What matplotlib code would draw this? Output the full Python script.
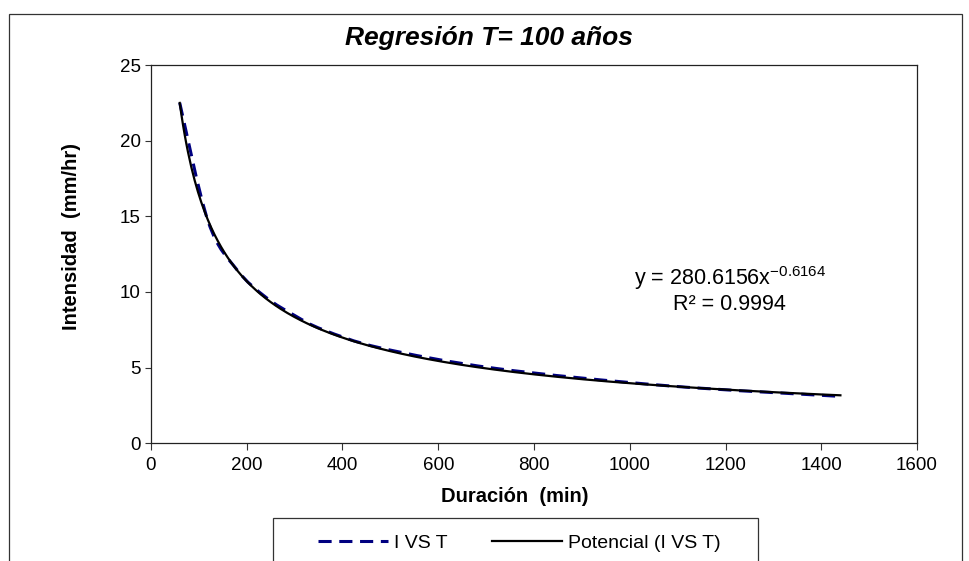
import matplotlib.pyplot as plt
import numpy as np
from matplotlib.path import Path
from matplotlib.patches import PathPatch, Rectangle
from matplotlib.lines import Line2D

plt.rcParams['font.family'] = ['Liberation Sans', 'DejaVu Sans']
plt.rcParams['mathtext.fontset'] = 'custom'
plt.rcParams['mathtext.rm'] = 'Liberation Sans'
plt.rcParams['mathtext.it'] = 'Liberation Sans:italic'

# duration (min) vs intensity (mm/hr), T = 100 years
duracion = [60, 120, 180, 240, 300, 360, 480, 720, 1080, 1440]
intensidad = [22.5, 14.6, 11.45, 9.65, 8.45, 7.5, 6.3, 4.95, 3.8, 3.1]

# power trendline shown on the chart
coef_a = 280.6156
coef_b = -0.6164
r2 = 0.9994

x_ticks = [0, 200, 400, 600, 800, 1000, 1200, 1400, 1600]
y_ticks = [0, 5, 10, 15, 20, 25]


def smooth_path(xs, ys):
    # excel-like smoothed line: bezier segments through the points
    pts = np.column_stack([xs, ys]).astype(float)
    n = len(pts)
    verts = [pts[0]]
    codes = [Path.MOVETO]
    for i in range(n - 1):
        p0 = pts[i - 1] if i > 0 else pts[i]
        p1 = pts[i]
        p2 = pts[i + 1]
        p3 = pts[i + 2] if i + 2 < n else pts[i + 1]
        c1 = p1 + (p2 - p0) / 6.0
        c2 = p2 - (p3 - p1) / 6.0
        verts += [c1, c2, p2]
        codes += [Path.CURVE4] * 3
    return Path(verts, codes)


fig = plt.figure(figsize=(9.7, 5.61), dpi=100)
ax = fig.add_axes([151 / 970, 1 - 443.3 / 561, 766 / 970, (443.3 - 65) / 561])

# chart area border
fig.add_artist(Rectangle((9 / 970, -0.05), 953 / 970, 1.05 - 14 / 561,
                         transform=fig.transFigure, fill=False,
                         edgecolor='#333333', linewidth=0.9))

dashed = PathPatch(smooth_path(duracion, intensidad), fill=False,
                   edgecolor='#000080', linewidth=2.2, linestyle=(0, (4.3, 2.5)),
                   zorder=2)
ax.add_patch(dashed)

xf = np.linspace(duracion[0], duracion[-1], 400)
ax.plot(xf, coef_a * xf ** coef_b, color='black', linewidth=1.6, zorder=3)

ax.set_xlim(0, 1600)
ax.set_ylim(0, 25)
ax.set_xticks(x_ticks)
ax.set_yticks(y_ticks)
ax.tick_params(axis='both', labelsize=13.5, direction='out', width=0.8, color='#333333')
ax.tick_params(axis='y', length=4.5, pad=3)
ax.tick_params(axis='x', length=5, pad=5)
for s in ax.spines.values():
    s.set_linewidth(0.9)
    s.set_color('#222222')

fig.text(489 / 970, 1 - 38 / 561, 'Regresión T= 100 años', ha='center', va='center',
         fontsize=19, fontweight='bold', fontstyle='italic')
fig.text(515 / 970, 1 - 497 / 561, 'Duración  (min)', ha='center', va='center',
         fontsize=14.5, fontweight='bold')
fig.text(72 / 970, 1 - 236 / 561, 'Intensidad  (mm/hr)', ha='center', va='center',
         fontsize=14.5, fontweight='bold', rotation=90)

ax.text(1209, 10.93, 'y = %.4fx$^{%.4f}$' % (coef_a, coef_b), ha='center', va='center',
        fontsize=15.5)
ax.text(1209, 9.15, 'R² = %.4f' % r2, ha='center', va='center', fontsize=15.5)

# legend
fig.add_artist(Rectangle((273 / 970, -0.05), 485 / 970, 0.05 + 1 - 518 / 561,
                         transform=fig.transFigure, fill=False,
                         edgecolor='#333333', linewidth=0.9))
h1 = Line2D([], [], color='#000080', linewidth=2.2, linestyle=(0, (4.3, 2.5)))
h2 = Line2D([], [], color='black', linewidth=1.6)
fig.legend([h1, h2], ['I VS T', 'Potencial (I VS T)'], loc='center left',
           bbox_to_anchor=(318 / 970, 1 - 543 / 561), ncol=2, frameon=False,
           fontsize=14, handlelength=3.6, handletextpad=0.3, columnspacing=2.3,
           borderpad=0, borderaxespad=0)

fig.savefig('out.png', dpi=100)
